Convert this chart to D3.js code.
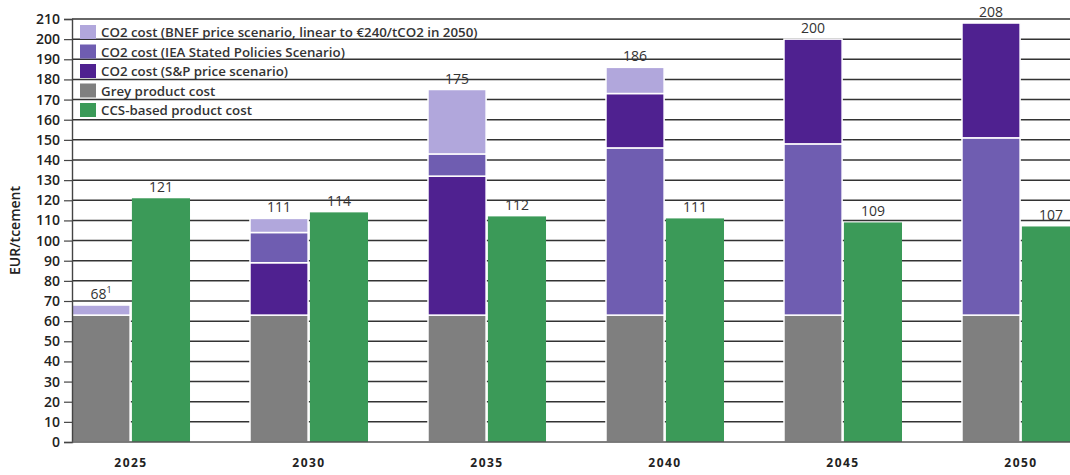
<!DOCTYPE html>
<html>
<head>
<meta charset="utf-8">
<script src="https://cdn.jsdelivr.net/npm/d3@7"></script>
<style>
  body { margin: 0; background: #fff; }
  svg text { font-family: "Open Sans", "DejaVu Sans", sans-serif; }
</style>
</head>
<body>
<div id="chart"></div>
<script>
// Data
const years = ['2025', '2030', '2035', '2040', '2045', '2050']
const greyCost = [63, 63, 63, 63, 63, 63]
// cost levels incl. CO2 per scenario (null = not visible)
const spLevel = [null, 89, 132, 173, 200, 208]
const ieaLevel = [null, 104, 143, 146, 148, 151]
const bnefLevel = [68, 111, 175, 186, null, null]
const ccsCost = [121, 114, 112, 111, 109, 107]
const greyLabels = ['68', '111', '175', '186', '200', '208']
const greySup = ['1', '', '', '', '', '']
const ccsLabels = ['121', '114', '112', '111', '109', '107']
const yTicks = d3.range(0, 211, 10)

const legendItems = [
  { key: 'bnef', label: 'CO2 cost (BNEF price scenario, linear to €240/tCO2 in 2050)' },
  { key: 'iea', label: 'CO2 cost (IEA Stated Policies Scenario)' },
  { key: 'sp', label: 'CO2 cost (S&P price scenario)' },
  { key: 'grey', label: 'Grey product cost' },
  { key: 'ccs', label: 'CCS-based product cost' },
]

const colors = {
  bnef: '#b1a7dc',
  iea: '#6f5db1',
  sp: '#4f2190',
  grey: '#7f7f7f',
  ccs: '#3b9a58',
}

// Dimensions
const dimensions = {
  width: 1070,
  height: 475,
  left: 72,
  top: 19,
  bottom: 442,
}

const svg = d3.select('#chart')
  .append('svg')
  .attr('width', dimensions.width)
  .attr('height', dimensions.height)

// Scales
const yScale = d3.scaleLinear()
  .domain([0, 210])
  .range([dimensions.bottom, dimensions.top])

const xScale = d3.scaleBand()
  .domain(years)
  .range([dimensions.left, 1080])
  .paddingInner(0.337)
  .paddingOuter(0)

const subScale = d3.scaleBand()
  .domain(['grey', 'ccs'])
  .range([0, xScale.bandwidth()])
  .paddingInner(0.03)

// gridlines
svg.append('g')
  .selectAll('line')
  .data(yTicks.filter(d => d > 0))
  .join('line')
  .attr('x1', dimensions.left)
  .attr('x2', dimensions.width)
  .attr('y1', d => yScale(d))
  .attr('y2', d => yScale(d))
  .attr('stroke', '#333')
  .attr('stroke-width', 1.5)

// build segments for the grey-product stack
const segments = []
years.forEach((year, i) => {
  const levels = [
    { key: 'sp', v: spLevel[i] },
    { key: 'iea', v: ieaLevel[i] },
    { key: 'bnef', v: bnefLevel[i] },
  ].filter(d => d.v !== null).sort((a, b) => a.v - b.v)
  segments.push({ year, key: 'grey', y0: 0, y1: greyCost[i] })
  let prev = greyCost[i]
  levels.forEach(l => {
    segments.push({ year, key: l.key, y0: prev, y1: l.v })
    prev = l.v
  })
})

svg.append('g')
  .selectAll('rect')
  .data(segments)
  .join('rect')
  .attr('x', d => xScale(d.year) + subScale('grey'))
  .attr('width', subScale.bandwidth())
  .attr('y', d => yScale(d.y1))
  .attr('height', d => yScale(d.y0) - yScale(d.y1))
  .attr('fill', d => colors[d.key])
  .attr('stroke', '#fff')
  .attr('stroke-width', 1.5)

svg.append('g')
  .selectAll('rect')
  .data(years)
  .join('rect')
  .attr('x', d => xScale(d) + subScale('ccs'))
  .attr('width', subScale.bandwidth())
  .attr('y', (d, i) => yScale(ccsCost[i]))
  .attr('height', (d, i) => yScale(0) - yScale(ccsCost[i]))
  .attr('fill', colors.ccs)

// value labels
const greyTops = years.map((y, i) => d3.max([greyCost[i], spLevel[i], ieaLevel[i], bnefLevel[i]]))
const greyText = svg.append('g')
  .selectAll('text')
  .data(years)
  .join('text')
  .attr('x', d => xScale(d) + subScale('grey') + subScale.bandwidth() / 2)
  .attr('y', (d, i) => yScale(greyTops[i]) - 6)
  .attr('text-anchor', 'middle')
  .attr('font-size', 14)
  .attr('font-weight', 500)
  .attr('fill', '#333')
greyText.append('tspan').text((d, i) => greyLabels[i])
greyText.append('tspan')
  .attr('font-size', 9)
  .attr('dy', -6)
  .text((d, i) => greySup[i])

svg.append('g')
  .selectAll('text')
  .data(years)
  .join('text')
  .attr('x', d => xScale(d) + subScale('ccs') + subScale.bandwidth() / 2)
  .attr('y', (d, i) => yScale(ccsCost[i]) - 6)
  .attr('text-anchor', 'middle')
  .attr('font-size', 14)
  .attr('font-weight', 500)
  .attr('fill', '#333')
  .text((d, i) => ccsLabels[i])

// Axes
const yAxis = d3.axisLeft(yScale)
  .tickValues(yTicks)
  .tickSize(8)
  .tickPadding(4)
const yAxisGroup = svg.append('g')
  .attr('transform', `translate(${dimensions.left},0)`)
  .call(yAxis)
yAxisGroup.select('.domain').attr('stroke', '#444').attr('stroke-width', 1.4)
yAxisGroup.selectAll('.tick line').attr('stroke', '#444').attr('stroke-width', 1.2)
yAxisGroup.selectAll('text')
  .attr('font-size', 14)
  .attr('font-weight', 600)
  .attr('fill', '#222')
  .style('font-family', '"Open Sans", sans-serif')

// baseline
svg.append('line')
  .attr('x1', dimensions.left)
  .attr('x2', dimensions.width)
  .attr('y1', yScale(0))
  .attr('y2', yScale(0))
  .attr('stroke', '#555')
  .attr('stroke-width', 1.6)

const xAxis = d3.axisBottom(xScale).tickSize(0).tickPadding(16)
const xAxisGroup = svg.append('g')
  .attr('transform', `translate(0,${yScale(0)})`)
  .call(xAxis)
xAxisGroup.select('.domain').remove()
xAxisGroup.selectAll('text')
  .attr('font-size', 12)
  .attr('font-weight', 'bold')
  .attr('letter-spacing', 1.5)
  .attr('fill', '#222')
  .style('font-family', '"Open Sans", sans-serif')

svg.append('text')
  .attr('transform', `translate(20,${(dimensions.top + dimensions.bottom) / 2}) rotate(-90)`)
  .attr('text-anchor', 'middle')
  .attr('font-size', 14)
  .attr('font-weight', 600)
  .attr('fill', '#222')
  .text('EUR/tcement')

// Legend
const legend = svg.append('g')
  .attr('transform', 'translate(80,25)')
const legendRows = legend.selectAll('g')
  .data(legendItems)
  .join('g')
  .attr('transform', (d, i) => `translate(0,${i * 19.5})`)
legendRows.append('rect')
  .attr('width', 16)
  .attr('height', 14)
  .attr('fill', d => colors[d.key])
legendRows.append('text')
  .attr('x', 21)
  .attr('y', 12)
  .attr('font-size', 13.3)
  .attr('font-weight', 600)
  .attr('fill', '#333')
  .text(d => d.label)
</script>
</body>
</html>
